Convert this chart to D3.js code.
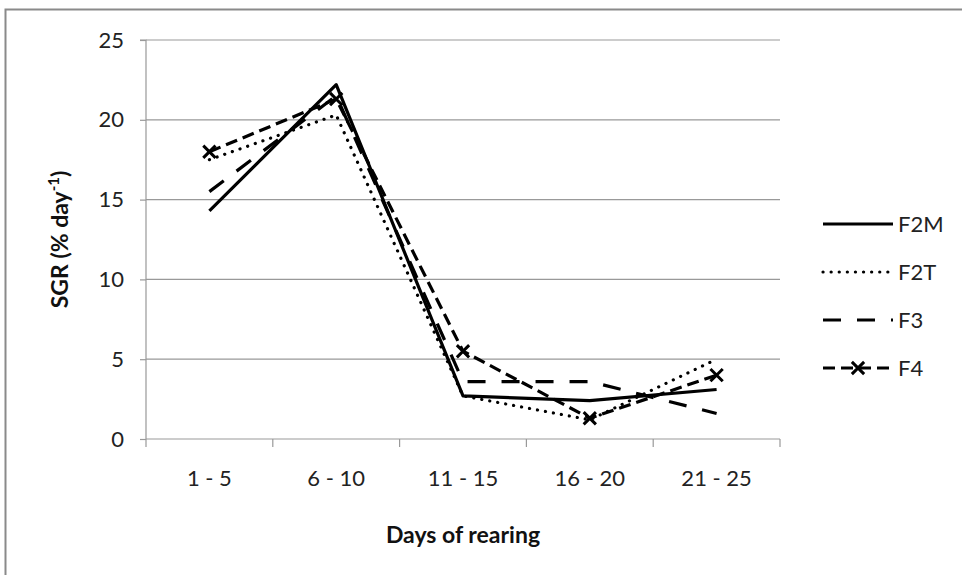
<!DOCTYPE html>
<html><head><meta charset="utf-8">
<script src="https://cdn.jsdelivr.net/npm/d3@7"></script>
<style>body{margin:0;background:#fff;} text{font-family:Lato,"Open Sans",sans-serif;}</style>
</head><body>
<svg id="c" width="962" height="575"></svg>
<script>
const categories = ["1 - 5", "6 - 10", "11 - 15", "16 - 20", "21 - 25"];
const yTicks = [0, 5, 10, 15, 20, 25];
const F2M = [14.3, 22.2, 2.7, 2.4, 3.1];
const F2T = [17.5, 20.3, 2.7, 1.2, 5.0];
const F3  = [15.5, 21.5, 3.6, 3.6, 1.6];
const F4  = [18.0, 21.3, 5.5, 1.3, 4.0];
const seriesNames = ["F2M", "F2T", "F3", "F4"];

const series = [
  {name: "F2M", values: F2M, dash: null, cap: "butt"},
  {name: "F2T", values: F2T, dash: "0.1 8", cap: "round"},
  {name: "F3", values: F3, dash: "18 16", cap: "butt"},
  {name: "F4", values: F4, dash: "12 6", cap: "butt", marker: true}
];

const FS = 22;
const svg = d3.select("#c");
const m = {left: 146, right: 780, top: 40, bottom: 439};

svg.append("rect").attr("x", 5.5).attr("y", 9.5).attr("width", 970).attr("height", 600)
  .attr("fill", "none").attr("stroke", "#8a8a8a").attr("stroke-width", 2);

const x = d3.scaleBand().domain(categories).range([m.left, m.right]);
const y = d3.scaleLinear().domain([0, 25]).range([m.bottom, m.top]);

// gridlines
svg.append("g").selectAll("line").data(yTicks.filter(d => d > 0)).join("line")
  .attr("x1", m.left).attr("x2", m.right)
  .attr("y1", d => y(d)).attr("y2", d => y(d))
  .attr("stroke", "#999").attr("stroke-width", 1.2);

// y axis
const ya = svg.append("g").attr("transform", `translate(${m.left},0)`)
  .call(d3.axisLeft(y).tickValues(yTicks).tickSize(6).tickPadding(16));
ya.selectAll("path,line").attr("stroke", "#999").attr("stroke-width", 1.2);
ya.selectAll("text").attr("font-size", FS).attr("fill", "#222").style("font-family", "Lato,'Open Sans',sans-serif");
ya.select(".domain").attr("d", `M-6,${m.top}H0V${m.bottom}`);

// x axis
const xa = svg.append("g").attr("transform", `translate(0,${m.bottom})`)
  .call(d3.axisBottom(x).tickSize(0).tickPadding(31));
xa.select(".domain").attr("stroke", "#999").attr("stroke-width", 1.2).attr("d", `M${m.left},0H${m.right}`);
xa.selectAll("text").attr("font-size", FS).attr("fill", "#222").style("font-family", "Lato,'Open Sans',sans-serif");
const bounds = categories.map(c => x(c)).concat([m.right]);
xa.selectAll(".bt").data(bounds).join("line").attr("class", "bt")
  .attr("x1", d => d).attr("x2", d => d).attr("y1", 0).attr("y2", 8)
  .attr("stroke", "#999").attr("stroke-width", 1.2);

// titles
svg.append("text").attr("x", (m.left + m.right) / 2).attr("y", 543).attr("text-anchor", "middle")
  .attr("font-size", 23).attr("font-weight", "bold").attr("fill", "#111").text("Days of rearing");
const yt = svg.append("text").attr("transform", `translate(68,${(m.top + m.bottom) / 2}) rotate(-90)`)
  .attr("text-anchor", "middle").attr("font-size", 23).attr("font-weight", "bold").attr("fill", "#111");
yt.append("tspan").text("SGR (% day");
yt.append("tspan").attr("baseline-shift", "super").attr("font-size", 15).text("-1");
yt.append("tspan").text(")");

const line = d3.line().x((d, i) => x(categories[i]) + x.bandwidth() / 2).y(d => y(d));

series.forEach(s => {
  svg.append("path").datum(s.values).attr("d", line)
    .attr("fill", "none").attr("stroke", "#000").attr("stroke-width", 3.2)
    .attr("stroke-linecap", s.cap).attr("stroke-linejoin", "round")
    .attr("stroke-dasharray", s.dash);
  if (s.marker) {
    svg.append("g").selectAll("path").data(s.values).join("path")
      .attr("transform", (d, i) => `translate(${x(categories[i]) + x.bandwidth() / 2},${y(d)})`)
      .attr("d", d3.symbol(d3.symbolX, 100))
      .attr("fill", "none").attr("stroke", "#000").attr("stroke-width", 3);
  }
});

// legend
const lg = svg.append("g");
series.forEach((s, i) => {
  const ly = 224 + i * 48;
  lg.append("line").attr("x1", 823).attr("x2", 893).attr("y1", ly).attr("y2", ly)
    .attr("stroke", "#000").attr("stroke-width", 3.2).attr("stroke-linecap", s.cap)
    .attr("stroke-dasharray", s.dash);
  if (s.marker) {
    lg.append("path").attr("transform", `translate(858,${ly})`).attr("d", d3.symbol(d3.symbolX, 100))
      .attr("fill", "none").attr("stroke", "#000").attr("stroke-width", 3);
  }
  lg.append("text").attr("x", 898).attr("y", ly).attr("dy", "0.36em")
    .attr("font-size", FS).attr("fill", "#222").text(seriesNames[i]);
});
</script>
</body></html>
